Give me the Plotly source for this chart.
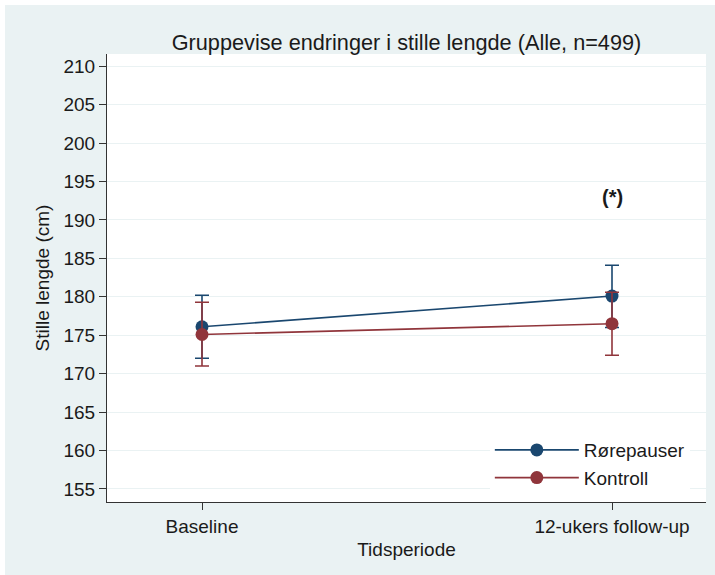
import plotly.graph_objects as go

periods = ["Baseline", "12-ukers follow-up"]
x_pos = [0, 1]

rore_mean = [176.1, 180.1]
rore_lo = [172.0, 176.0]
rore_hi = [180.2, 184.1]

kontroll_mean = [175.1, 176.5]
kontroll_lo = [171.0, 172.4]
kontroll_hi = [179.3, 180.6]

y_ticks = [155, 160, 165, 170, 175, 180, 185, 190, 195, 200, 205, 210]

BLUE = "#1A476F"
RED = "#90353B"
BG = "#EAF2F3"
TXT = "#1a1a1a"
FONT = "Liberation Sans, Arial, sans-serif"

fig = go.Figure()

def add_series(name, mean, lo, hi, color):
    fig.add_trace(go.Scatter(
        x=x_pos, y=mean, name=name, mode="lines+markers",
        line=dict(color=color, width=1.6),
        marker=dict(color=color, size=13),
        error_y=dict(type="data", symmetric=False,
                     array=[h - m for h, m in zip(hi, mean)],
                     arrayminus=[m - l for m, l in zip(mean, lo)],
                     color=color, thickness=1.6, width=7),
    ))

add_series("Rørepauser", rore_mean, rore_lo, rore_hi, BLUE)
add_series("Kontroll", kontroll_mean, kontroll_lo, kontroll_hi, RED)

fig.add_annotation(x=1, y=193.0, text="<b>(*)</b>", showarrow=False,
                   font=dict(size=20, color=TXT, family=FONT))

L, R, T, B = 107, 9, 54, 73
W, H = 715, 575
pw, ph = W - L - R, H - T - B
# thin white strips along the top and left edges
fig.add_shape(type="rect", xref="paper", yref="paper", layer="below",
              x0=-L / pw, x1=(W - L) / pw,
              y0=(ph + T - 5) / ph, y1=(ph + T) / ph,
              fillcolor="white", line=dict(width=0))
fig.add_shape(type="rect", xref="paper", yref="paper", layer="below",
              x0=-L / pw, x1=(5 - L) / pw,
              y0=-B / ph, y1=(ph + T) / ph,
              fillcolor="white", line=dict(width=0))
fig.add_shape(type="rect", xref="paper", yref="paper", layer="below",
              x0=0, x1=1, y0=0, y1=1, fillcolor="white", line=dict(width=0))

fig.update_layout(
    width=W, height=H,
    margin=dict(l=L, r=R, t=T, b=B),
    paper_bgcolor=BG, plot_bgcolor="white",
    font=dict(family=FONT, size=19, color=TXT),
    title=dict(text="Gruppevise endringer i stille lengde (Alle, n=499)",
               x=(L + pw / 2) / W, xanchor="center", y=1 - 42 / H, yanchor="middle",
               font=dict(size=21.7, color=TXT)),
    legend=dict(x=0.973, y=0.011, xanchor="right", yanchor="bottom",
                bgcolor="white", borderwidth=0, font=dict(size=19, color=TXT),
                itemwidth=84, tracegroupgap=0),
    showlegend=True,
)

fig.update_xaxes(
    range=[-95 / 410, (pw - 95) / 410],
    tickvals=x_pos, ticktext=periods,
    showgrid=False, zeroline=False,
    showline=True, linecolor="#333", linewidth=1.2,
    ticks="outside", ticklen=7, tickcolor="#333",
    tickfont=dict(size=19, color=TXT),
    title=dict(text="Tidsperiode", font=dict(size=19, color=TXT), standoff=6),
)
fig.update_yaxes(
    range=[153.3, 211.6],
    tickvals=y_ticks,
    showgrid=True, gridcolor=BG, gridwidth=1, zeroline=False,
    showline=True, linecolor="#333", linewidth=1.2,
    ticks="outside", ticklen=7, tickcolor="#333",
    tickfont=dict(size=19, color=TXT),
    title=dict(text="Stille lengde (cm)", font=dict(size=19, color=TXT), standoff=8),
)

fig.write_html("out.html", config={"displayModeBar": False},
               post_script="document.body.style.margin='0px';")
